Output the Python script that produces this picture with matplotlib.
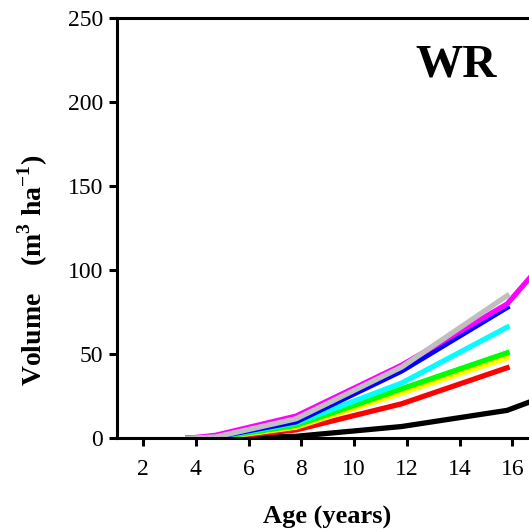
import matplotlib
matplotlib.use("Agg")
import matplotlib.pyplot as plt

# Stand age (years) at each measurement
age = [3.7, 4.75, 7.8, 11.8, 15.8]
age_long = [3.7, 4.75, 7.8, 11.8, 15.8, 19.8]

# Stand volume (m3 ha-1) per treatment
vol_black = [0.0, 0.0, 1.2, 7.0, 16.6, 40.0]
vol_red = [0.0, 0.0, 5.0, 20.5, 41.9]
vol_yellow = [0.0, 0.1, 6.6, 26.9, 47.8]
vol_green = [0.0, 0.2, 7.7, 29.4, 50.8]
vol_cyan = [0.0, 0.5, 9.1, 32.8, 66.0]
vol_blue = [0.0, 0.8, 9.8, 40.0, 77.8]
vol_magenta = [0.0, 1.8, 13.2, 43.4, 79.8, 152.0]
vol_gray = [0.0, 0.8, 11.6, 42.3, 84.7]

xticks = [2, 4, 6, 8, 10, 12, 14, 16]
yticks = [0, 50, 100, 150, 200, 250]

plt.rcParams['font.family'] = ['Liberation Serif', 'DejaVu Serif']
plt.rcParams['mathtext.fontset'] = 'custom'
plt.rcParams['mathtext.rm'] = 'Liberation Serif'
plt.rcParams['mathtext.bf'] = 'Liberation Serif:bold'

fig = plt.figure(figsize=(5.29, 5.32), dpi=100)
ax = fig.add_axes([0.2206, 0.1761, 0.7794, 0.7910])

lw = 3.8
ax.plot(age_long, vol_black, color='black', lw=lw)
ax.plot(age, vol_red, color='#ff0000', lw=lw)
ax.plot(age, vol_yellow, color='#ffff00', lw=lw)
ax.plot(age, vol_green, color='#00ff00', lw=lw)
ax.plot(age, vol_cyan, color='#00ffff', lw=lw)
ax.plot(age, vol_blue, color='#0000ff', lw=lw)
ax.plot(age_long, vol_magenta, color='#ff00ff', lw=lw)
ax.plot(age, vol_gray, color='#bfbfbf', lw=lw)

ax.set_xlim(1, 16.63)
ax.set_ylim(0, 250)
ax.set_xticks(xticks)
ax.set_yticks(yticks)

ax.spines['right'].set_visible(False)
for s in ['left', 'bottom', 'top']:
    ax.spines[s].set_linewidth(2.2)
ax.tick_params(axis='both', direction='out', length=6, width=2.2,
               labelsize=17)
ax.tick_params(axis='x', pad=9)
ax.tick_params(axis='y', pad=4)

fig.text(0.862, 0.877, 'WR', ha='center', va='center',
         fontsize=34, fontweight='bold')
fig.text(0.618, 0.028, 'Age (years)', ha='center', va='center',
         fontsize=19, fontweight='bold')
fig.text(0.062, 0.492, 'Volume    (m$^{\\mathbf{3}}$ ha$^{\\mathbf{-1}}$)',
         ha='center', va='center', rotation=90, fontsize=20,
         fontweight='bold')

fig.savefig('out.png', dpi=100)
